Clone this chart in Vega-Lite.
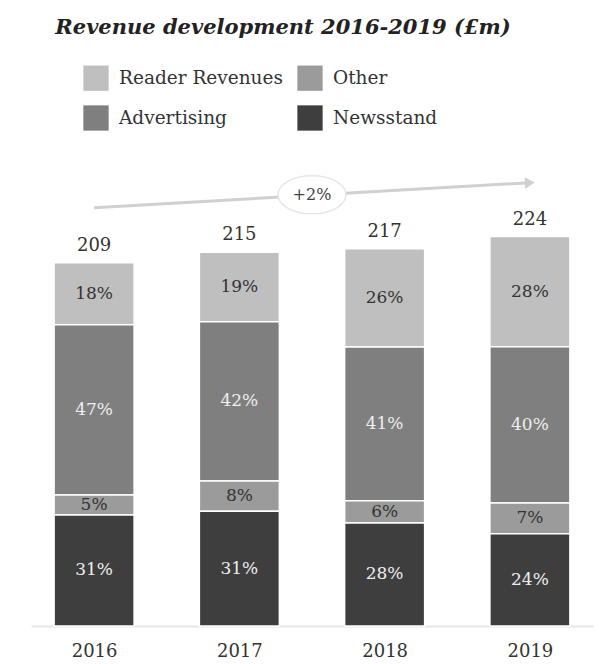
{
  "$schema": "https://vega.github.io/schema/vega-lite/v6.json",
  "autosize": {"type": "none"},
  "width": 562,
  "height": 452,
  "padding": {"left": 31, "top": 174, "right": 6, "bottom": 38},
  "background": "white",
  "title": {
    "text": "Revenue development 2016-2019 (£m)",
    "font": "DejaVu Serif",
    "fontSize": 21,
    "fontWeight": "bold",
    "fontStyle": "italic",
    "color": "#222222",
    "anchor": "middle",
    "frame": "group",
    "dx": -29,
    "offset": 27
  },
  "config": {
    "view": {"stroke": null},
    "axis": {"grid": false},
    "axisX": {
      "ticks": false,
      "domainColor": "#e6e6e6",
      "domainWidth": 2,
      "labelFont": "DejaVu Serif",
      "labelFontSize": 18,
      "labelColor": "#333333",
      "labelPadding": 16,
      "labelAngle": 0
    },
    "legend": {
      "orient": "none",
      "legendX": 52,
      "legendY": -109,
      "columns": 2,
      "symbolType": "square",
      "symbolSize": 640,
      "symbolStrokeWidth": 0,
      "symbolOpacity": 1,
      "labelFont": "DejaVu Serif",
      "labelFontSize": 18.5,
      "labelColor": "#333333",
      "labelOffset": 10,
      "labelLimit": 400,
      "rowPadding": 14,
      "columnPadding": 14,
      "title": null
    }
  },
  "layer": [
    {
      "data": {
        "values": [
          {"year": 2016, "category": "Reader Revenues", "value": 35.7, "label": "18%", "order": 4},
          {"year": 2016, "category": "Advertising", "value": 97.9, "label": "47%", "order": 3},
          {"year": 2016, "category": "Other", "value": 11.5, "label": "5%", "order": 2},
          {"year": 2016, "category": "Newsstand", "value": 63.9, "label": "31%", "order": 1},
          {"year": 2017, "category": "Reader Revenues", "value": 40.0, "label": "19%", "order": 4},
          {"year": 2017, "category": "Advertising", "value": 91.6, "label": "42%", "order": 3},
          {"year": 2017, "category": "Other", "value": 17.4, "label": "8%", "order": 2},
          {"year": 2017, "category": "Newsstand", "value": 66.0, "label": "31%", "order": 1},
          {"year": 2018, "category": "Reader Revenues", "value": 56.5, "label": "26%", "order": 4},
          {"year": 2018, "category": "Advertising", "value": 88.5, "label": "41%", "order": 3},
          {"year": 2018, "category": "Other", "value": 12.7, "label": "6%", "order": 2},
          {"year": 2018, "category": "Newsstand", "value": 59.3, "label": "28%", "order": 1},
          {"year": 2019, "category": "Reader Revenues", "value": 63.4, "label": "28%", "order": 4},
          {"year": 2019, "category": "Advertising", "value": 89.8, "label": "40%", "order": 3},
          {"year": 2019, "category": "Other", "value": 17.8, "label": "7%", "order": 2},
          {"year": 2019, "category": "Newsstand", "value": 53.0, "label": "24%", "order": 1}
        ]
      },
      "transform": [
        {"stack": "value", "groupby": ["year"], "sort": [{"field": "order", "order": "ascending"}], "as": ["y0", "y1"]},
        {"calculate": "(datum.y0 + datum.y1) / 2", "as": "ymid"}
      ],
      "layer": [
        {
          "mark": {"type": "bar", "width": 80, "stroke": "white", "strokeWidth": 1.5},
          "encoding": {
            "x": {"field": "year", "type": "quantitative", "title": null,
                  "scale": {"domain": [2015.6, 2019.4], "nice": false, "zero": false},
                  "axis": {"values": [2016, 2017, 2018, 2019], "format": "d"}},
            "y": {"field": "y0", "type": "quantitative", "scale": {"domain": [0, 260], "nice": false}, "axis": null},
            "y2": {"field": "y1"},
            "color": {"field": "category", "type": "nominal",
                      "scale": {"domain": ["Reader Revenues", "Advertising", "Other", "Newsstand"],
                                "range": ["#bfbfbf", "#7f7f7f", "#9b9b9b", "#3e3e3e"]}}
          }
        },
        {
          "mark": {"type": "text", "font": "DejaVu Serif", "fontSize": 17, "baseline": "middle", "align": "center"},
          "encoding": {
            "x": {"field": "year", "type": "quantitative", "title": null},
            "y": {"field": "ymid", "type": "quantitative", "axis": null},
            "text": {"field": "label"},
            "color": {
              "condition": {"test": "datum.category === 'Advertising' || datum.category === 'Newsstand'", "value": "#eeeeee"},
              "value": "#333333"
            }
          }
        }
      ]
    },
    {
      "data": {
        "values": [
          {"year": 2016, "total": 209},
          {"year": 2017, "total": 215},
          {"year": 2018, "total": 217},
          {"year": 2019, "total": 224}
        ]
      },
      "mark": {"type": "text", "font": "DejaVu Serif", "fontSize": 18, "baseline": "middle", "dy": -17, "color": "#333333"},
      "encoding": {
        "x": {"field": "year", "type": "quantitative", "title": null},
        "y": {"field": "total", "type": "quantitative", "axis": null},
        "text": {"field": "total"}
      }
    },
    {
      "data": {"values": [{"year": 2016, "yv": 240.6, "year2": 2019, "yv2": 255}]},
      "mark": {"type": "rule", "color": "#d0d0d0", "strokeWidth": 3},
      "encoding": {
        "x": {"field": "year", "type": "quantitative", "title": null},
        "y": {"field": "yv", "type": "quantitative", "axis": null},
        "x2": {"field": "year2"},
        "y2": {"field": "yv2"}
      }
    },
    {
      "data": {"values": [{"year": 2019, "yv": 255}]},
      "mark": {"type": "point", "shape": "triangle-right", "size": 130, "filled": true, "color": "#d0d0d0", "opacity": 1, "angle": -3},
      "encoding": {
        "x": {"field": "year", "type": "quantitative", "title": null},
        "y": {"field": "yv", "type": "quantitative", "axis": null}
      }
    },
    {
      "data": {"values": [{"year": 2017.5, "yv": 248, "text": "+2%"}]},
      "layer": [
        {
          "mark": {"type": "point", "shape": "M -1.79,0 A 1.79,1 0 1,0 1.79,0 A 1.79,1 0 1,0 -1.79,0 Z", "size": 1444, "filled": true, "fill": "white", "stroke": "#e6e6e6", "strokeWidth": 1.5, "opacity": 1},
          "encoding": {
            "x": {"field": "year", "type": "quantitative", "title": null},
            "y": {"field": "yv", "type": "quantitative", "axis": null}
          }
        },
        {
          "mark": {"type": "text", "font": "DejaVu Serif", "fontSize": 16, "baseline": "middle", "color": "#444444"},
          "encoding": {
            "x": {"field": "year", "type": "quantitative", "title": null},
            "y": {"field": "yv", "type": "quantitative", "axis": null},
            "text": {"field": "text"}
          }
        }
      ]
    }
  ]
}
